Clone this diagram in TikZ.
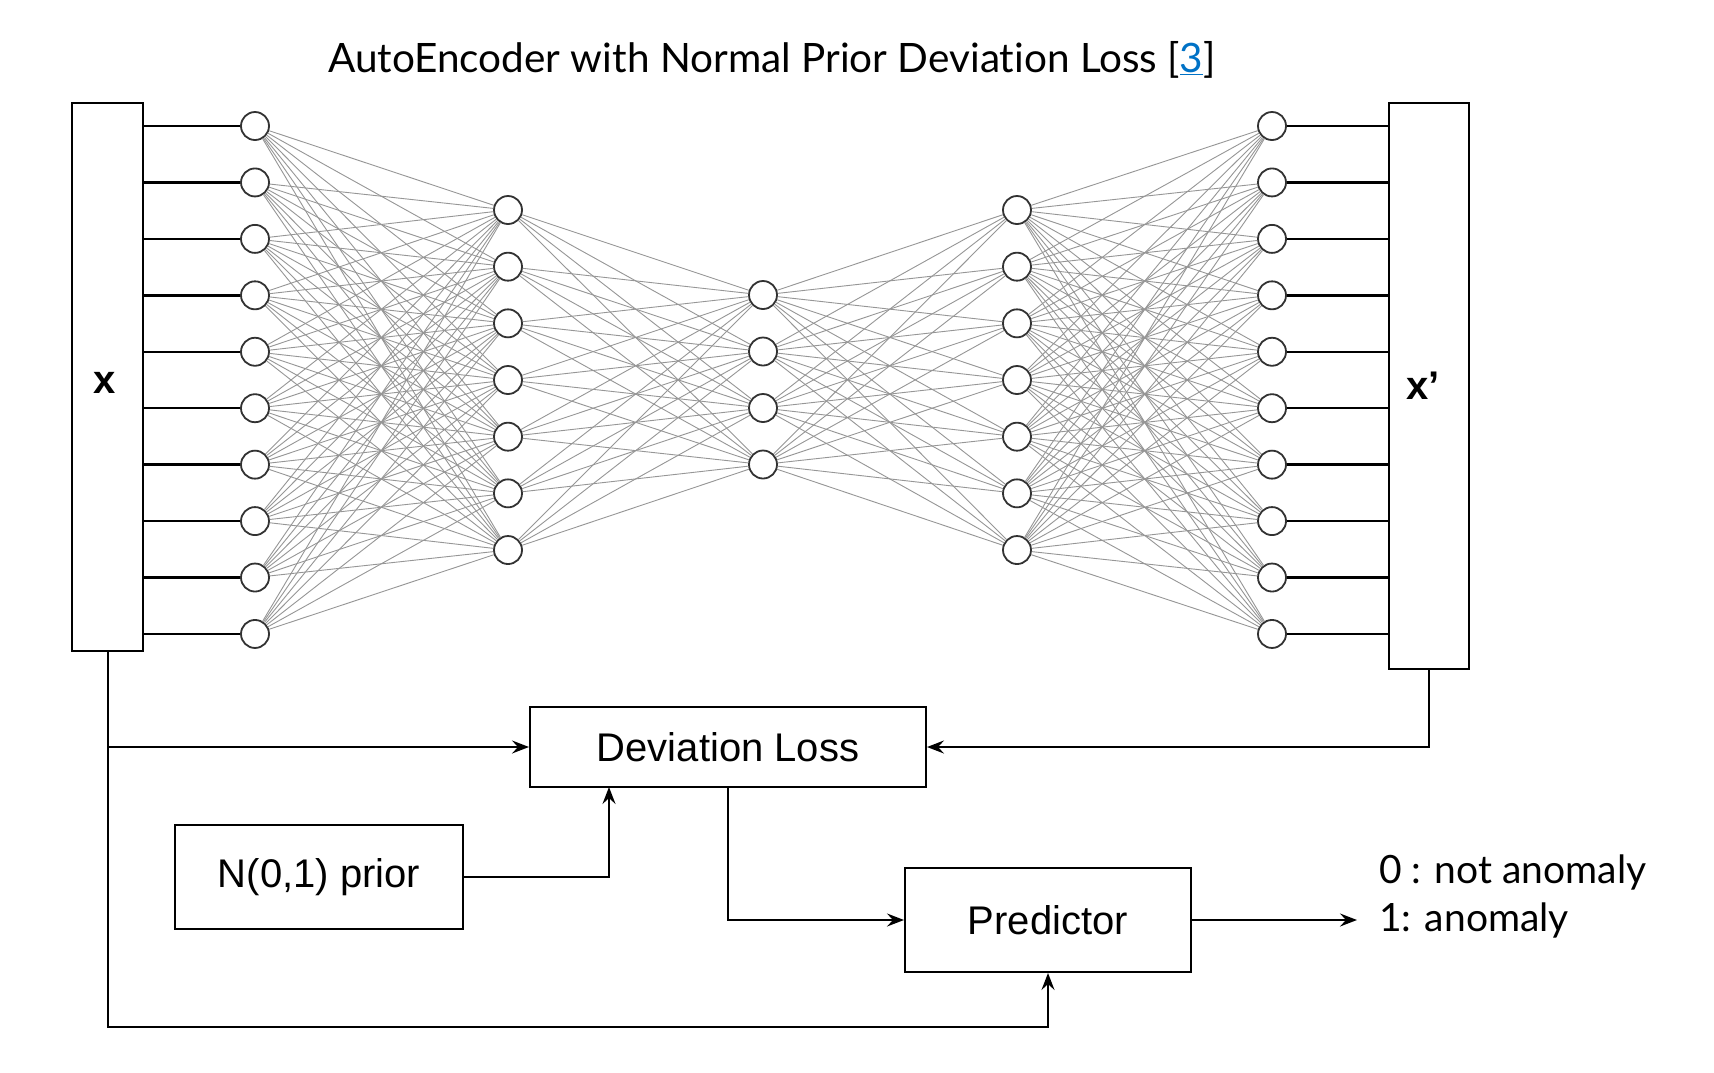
\documentclass[tikz,border=0pt]{standalone}
\usepackage{fontspec}
\setmainfont{Liberation Sans}
\newfontfamily\latofont{Lato}[RawFeature={-liga;-dlig;-clig}]
\usetikzlibrary{arrows.meta}
\definecolor{linkblue}{RGB}{0,114,198}
\definecolor{connc}{RGB}{150,150,150}
\definecolor{neuc}{RGB}{50,50,50}
\tikzset{
  neuron/.style={circle,draw=neuc,line width=1.8pt,minimum size=28pt,inner sep=0pt,fill=white},
  conn/.style={draw=connc,line width=0.9pt},
  wire/.style={draw=black,line width=2.4pt},
  blk/.style={draw=black,line width=2pt,inner sep=0pt,font=\fontsize{40}{46}\selectfont},
  flow/.style={draw=black,line width=2pt},
  arr/.style={flow,-{Stealth[length=17pt,width=13pt,inset=6pt]}},
  outtxt/.style={anchor=base west,inner sep=0pt,font=\latofont\fontsize{39}{44}\selectfont},
}
\begin{document}
\begin{tikzpicture}[x=1pt,y=-1pt]
\fill[white] (0,0) rectangle (1714,1072);
\useasboundingbox (0,0) rectangle (1714,1072);
% title
\node[anchor=base,inner sep=0pt,font=\latofont\fontsize{40.5}{46}\selectfont] (title) at (772,72)
  {AutoEncoder with Normal Prior Deviat\kern0pt ion Loss [{\color{linkblue}\underline{3}}]};
% input / output boxes
\node[blk,minimum width=71pt,minimum height=548pt,
  label={[font=\bfseries\fontsize{40}{46}\selectfont,yshift=-6pt,xshift=-3pt]center:x}] (inbox) at (107.5,377) {};
\node[blk,minimum width=80pt,minimum height=566pt,
  label={[font=\bfseries\fontsize{40}{46}\selectfont,xshift=-6pt]center:x’}] (outbox) at (1429,386) {};
% neurons
\foreach \i in {0,...,9} {
  \node[neuron] (a\i) at (255,{126+56.44*\i}) {};
  \node[neuron] (e\i) at (1272,{126+56.44*\i}) {};
}
\foreach \i in {0,...,6} {
  \node[neuron] (b\i) at (508,{210+56.67*\i}) {};
  \node[neuron] (d\i) at (1017,{210+56.67*\i}) {};
}
\foreach \i in {0,...,3} {
  \node[neuron] (c\i) at (763,{295+56.5*\i}) {};
}
% connections
\foreach \i in {0,...,9} {
  \foreach \j in {0,...,6} {
    \draw[conn] (a\i) -- (b\j);
    \draw[conn] (d\j) -- (e\i);
  }
}
\foreach \i in {0,...,6} {
  \foreach \j in {0,...,3} {
    \draw[conn] (b\i) -- (c\j);
    \draw[conn] (c\j) -- (d\i);
  }
}
% box wires
\foreach \i in {0,...,9} {
  \draw[wire] (inbox.east |- a\i) -- (a\i.west);
  \draw[wire] (e\i.east) -- (outbox.west |- e\i);
}
% lower blocks
\node[blk,minimum width=396pt,minimum height=80pt] (dev) at (728,747) {Deviation Loss};
\node[blk,minimum width=286pt,minimum height=104pt] (pred) at (1048,920) {Predictor};
\node[blk,minimum width=288pt,minimum height=104pt] (prior) at (319,877) {N(0,1) prior};
% flows
\draw[arr] (inbox.south) -- (inbox.south |- dev.west) -- (dev.west);
\draw[arr] (inbox.south) -- ++(0,375) -| (pred.south);
\draw[arr] (outbox.south) -- (outbox.south |- dev.east) -- (dev.east);
\draw[arr] (prior.east) -| (609,787);
\draw[arr] (dev.south) |- (pred.west);
\coordinate (outp) at (1357,920);
\draw[arr] (pred.east) -- (outp);
% output text
\node[outtxt] (l0) at (1379,883) {0 : not anomaly};
\node[outtxt] (l1) at (1379,931) {1: anomaly};
\end{tikzpicture}
\end{document}
